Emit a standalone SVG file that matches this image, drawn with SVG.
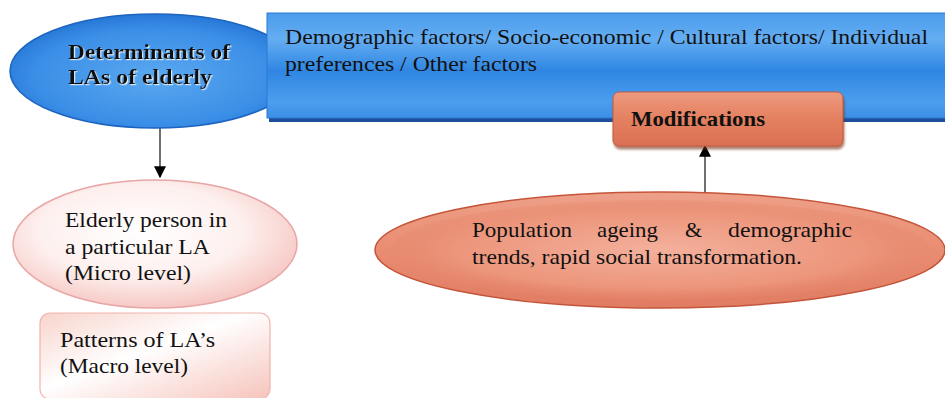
<svg xmlns="http://www.w3.org/2000/svg" width="945" height="398" viewBox="0 0 945 398">
<defs>
<radialGradient id="gBlueEll" cx="50%" cy="55%" r="60%">
<stop offset="0" stop-color="#5aa8f0"/>
<stop offset="0.7" stop-color="#3a8ee6"/>
<stop offset="1" stop-color="#1f6fd2"/>
</radialGradient>
<linearGradient id="gBlueRect" x1="0" y1="0" x2="0" y2="1">
<stop offset="0" stop-color="#4a9cec"/>
<stop offset="0.25" stop-color="#64adf2"/>
<stop offset="0.55" stop-color="#2f86e2"/>
<stop offset="0.85" stop-color="#4c9eee"/>
<stop offset="1" stop-color="#3a8fe6"/>
</linearGradient>
<radialGradient id="gOrange" cx="50%" cy="50%" r="55%">
<stop offset="0" stop-color="#f4b09c"/>
<stop offset="0.7" stop-color="#ec957b"/>
<stop offset="1" stop-color="#e3806500"/>
</radialGradient>
<linearGradient id="gOrangeL" x1="0" y1="0" x2="0" y2="1">
<stop offset="0" stop-color="#eea088"/>
<stop offset="0.5" stop-color="#e98d72"/>
<stop offset="1" stop-color="#e07c62"/>
</linearGradient>
<linearGradient id="gMod" x1="0" y1="0" x2="0" y2="1">
<stop offset="0" stop-color="#ee9a7e"/>
<stop offset="0.5" stop-color="#e4805f"/>
<stop offset="1" stop-color="#da7054"/>
</linearGradient>
<radialGradient id="gPinkEll" cx="45%" cy="40%" r="60%">
<stop offset="0" stop-color="#ffffff"/>
<stop offset="0.6" stop-color="#fdf0ee"/>
<stop offset="1" stop-color="#f6c8c4"/>
</radialGradient>
<linearGradient id="gPinkRect" x1="0" y1="0" x2="1" y2="1">
<stop offset="0" stop-color="#f8d4cc"/>
<stop offset="0.45" stop-color="#ffffff"/>
<stop offset="1" stop-color="#f6c4bc"/>
</linearGradient>
<filter id="shTxt" x="-5%" y="-20%" width="110%" height="140%">
<feDropShadow dx="1.2" dy="1.2" stdDeviation="0.4" flood-color="#ffffff" flood-opacity="0.8"/>
</filter>
<filter id="shBox" x="-5%" y="-10%" width="110%" height="130%">
<feDropShadow dx="1" dy="3" stdDeviation="1.2" flood-color="#7a2a18" flood-opacity="0.6"/>
</filter>
<marker id="arr" viewBox="0 0 10 10" refX="9" refY="5" markerWidth="12" markerHeight="12" markerUnits="userSpaceOnUse" orient="auto">
<path d="M0,0 L10,5 L0,10 z" fill="#000"/>
</marker>
<style>
.t{font-family:"Liberation Serif","Times New Roman",serif;font-size:22px;fill:#111;}
.b{font-weight:bold;}
.con{stroke:#222;stroke-width:1.3;fill:none;}
</style>
</defs>

<g id="connectors">
<line class="con" x1="160" y1="128" x2="160" y2="177" marker-end="url(#arr)"/>
<line class="con" x1="705" y1="193" x2="705" y2="146" marker-end="url(#arr)"/>
</g>

<g id="node-determinants">
<ellipse cx="155" cy="71" rx="145" ry="57" fill="url(#gBlueEll)" stroke="#1d64c0" stroke-width="1.5"/>
<text class="t b" filter="url(#shTxt)" x="68" y="59" textLength="162" lengthAdjust="spacingAndGlyphs">Determinants of</text>
<text class="t b" filter="url(#shTxt)" x="68" y="84" textLength="144" lengthAdjust="spacingAndGlyphs">LAs of elderly</text>
</g>

<g id="node-factors">
<rect x="269" y="16" width="690" height="106" fill="#1d4f9a"/>
<rect x="267" y="13" width="690" height="105" fill="url(#gBlueRect)" stroke="#2a78d4" stroke-width="1"/>
<text class="t" x="285" y="44" textLength="643" lengthAdjust="spacingAndGlyphs">Demographic factors/ Socio-economic / Cultural factors/ Individual</text>
<text class="t" x="285" y="71" textLength="252" lengthAdjust="spacingAndGlyphs">preferences / Other factors</text>
</g>

<g id="node-modifications">
<rect x="613" y="92" width="230" height="54" rx="6" fill="url(#gMod)" stroke="#c05a3e" stroke-width="1" filter="url(#shBox)"/>
<text class="t b" x="631" y="126" textLength="134" lengthAdjust="spacingAndGlyphs">Modifications</text>
</g>

<g id="node-population">
<ellipse cx="660" cy="250" rx="285" ry="58" fill="url(#gOrangeL)" stroke="#c4553a" stroke-width="1.5"/>
<ellipse cx="660" cy="250" rx="270" ry="50" fill="url(#gOrange)"/>
<text class="t" x="472" y="237" textLength="100" lengthAdjust="spacingAndGlyphs">Population</text>
<text class="t" x="597" y="237" textLength="61" lengthAdjust="spacingAndGlyphs">ageing</text>
<text class="t" x="685" y="237">&amp;</text>
<text class="t" x="728" y="237" textLength="124" lengthAdjust="spacingAndGlyphs">demographic</text>
<text class="t" x="472" y="264" textLength="330" lengthAdjust="spacingAndGlyphs">trends, rapid social transformation.</text>
</g>

<g id="node-elderly">
<ellipse cx="155" cy="244" rx="142" ry="64" fill="url(#gPinkEll)" stroke="#e8a6a6" stroke-width="1.5"/>
<text class="t" x="65" y="227" textLength="162" lengthAdjust="spacingAndGlyphs">Elderly person in</text>
<text class="t" x="65" y="254" textLength="145" lengthAdjust="spacingAndGlyphs">a particular LA</text>
<text class="t" x="65" y="280" textLength="126" lengthAdjust="spacingAndGlyphs">(Micro level)</text>
</g>

<g id="node-patterns">
<rect x="40" y="313" width="230" height="86" rx="10" fill="url(#gPinkRect)" stroke="#f0b4ac" stroke-width="1.2"/>
<text class="t" x="60" y="347" textLength="155" lengthAdjust="spacingAndGlyphs">Patterns of LA’s</text>
<text class="t" x="60" y="373" textLength="128" lengthAdjust="spacingAndGlyphs">(Macro level)</text>
</g>
</svg>
